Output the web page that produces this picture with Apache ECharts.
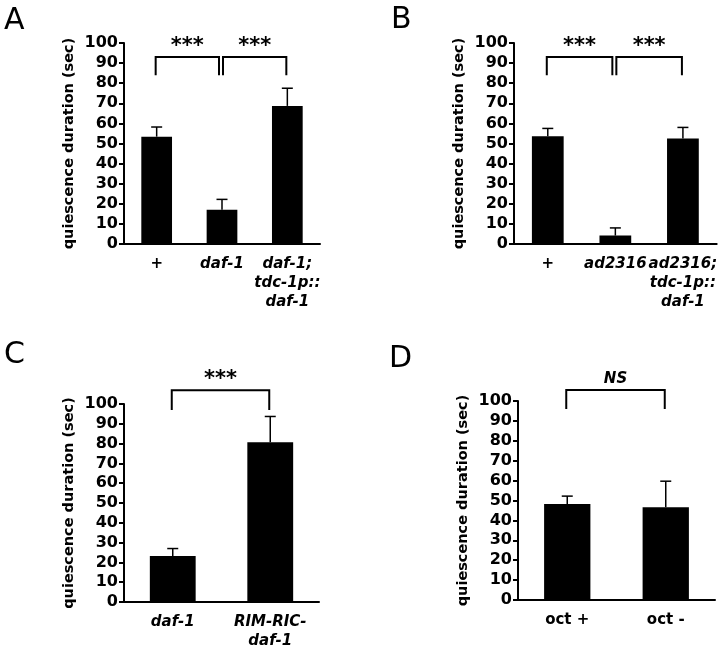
<!DOCTYPE html>
<html>
<head>
<meta charset="utf-8">
<script src="https://cdn.jsdelivr.net/npm/echarts@6/dist/echarts.min.js"></script>
<style>
  html, body { margin: 0; padding: 0; background: #fff; }
  #fig { width: 720px; height: 651px; }
</style>
</head>
<body>
<div id="fig"></div>
<script>
  // A
  const catsA = ['+', 'daf-1', 'daf-1;\ntdc-1p::\ndaf-1'];
  const meanA = [53.4, 17, 68.7];
  const errTopA = [58.2, 22.2, 77.5];
  const bracketsA = [[0, 1, 93, 84], [1, 2, 93, 84]];
  const sigA = ['***', '***'];
  // B
  const catsB = ['+', 'ad2316', 'ad2316;\ntdc-1p::\ndaf-1'];
  const meanB = [53.6, 4.2, 52.5];
  const errTopB = [57.5, 8, 58];
  const bracketsB = [[0, 1, 93, 84], [1, 2, 93, 84]];
  const sigB = ['***', '***'];
  // C
  const catsC = ['daf-1', 'RIM-RIC-\ndaf-1'];
  const meanC = [23.2, 80.7];
  const errTopC = [27, 93.7];
  const bracketsC = [[0, 1, 107, 97]];
  const sigC = ['***'];
  // D
  const catsD = ['oct +', 'oct -'];
  const meanD = [48.3, 46.6];
  const errTopD = [52.2, 59.7];
  const bracketsD = [[0, 1, 105.5, 96]];
  const sigD = ['NS'];

  const yTicks = [0, 10, 20, 30, 40, 50, 60, 70, 80, 90, 100];
  const yTitle = 'quiescence duration (sec)';
  const plainLabels = ['+', 'oct +', 'oct -'];

  const panels = [
    {letter: 'A', cats: catsA, mean: meanA, err: errTopA, br: bracketsA, sig: sigA,
      grid: {left: 124, right: 400, top: 43, bottom: 407}, lx: 4, ly: 6},
    {letter: 'B', cats: catsB, mean: meanB, err: errTopB, br: bracketsB, sig: sigB,
      grid: {left: 514, right: 2, top: 43, bottom: 407}, lx: 391, ly: 5},
    {letter: 'C', cats: catsC, mean: meanC, err: errTopC, br: bracketsC, sig: sigC,
      grid: {left: 124, right: 401, top: 404, bottom: 47}, lx: 4, ly: 340},
    {letter: 'D', cats: catsD, mean: meanD, err: errTopD, br: bracketsD, sig: sigD,
      grid: {left: 518, right: 5, top: 401, bottom: 51}, lx: 389, ly: 344}
  ];

  const FONT = 'DejaVu Sans';
  let grids = [], xAxes = [], yAxes = [], series = [], graphics = [];

  panels.forEach((p, k) => {
    grids.push(p.grid);
    xAxes.push({
      type: 'category', gridIndex: k, data: p.cats,
      axisLine: {lineStyle: {color: '#000', width: 2}},
      axisTick: {length: 4, lineStyle: {color: '#000', width: 2}},
      axisLabel: {
        interval: 0, margin: 11, color: '#000',
        fontFamily: FONT, fontWeight: 'bold', fontSize: 15, lineHeight: 19,
        formatter: v => plainLabels.includes(v) ? v
          : v.split('\n').map(s => '{i|' + s + '}').join('\n'),
        rich: {i: {fontStyle: 'italic', fontFamily: FONT, fontWeight: 'bold', fontSize: 15, lineHeight: 19, color: '#000'}}
      }
    });
    yAxes.push({
      type: 'value', gridIndex: k, min: yTicks[0], max: yTicks[yTicks.length - 1], interval: 10,
      name: yTitle, nameLocation: 'middle', nameRotate: 90, nameGap: 47,
      nameTextStyle: {fontFamily: FONT, fontWeight: 'bold', fontSize: 14.5, color: '#000'},
      splitLine: {show: false},
      axisLine: {show: true, lineStyle: {color: '#000', width: 2}},
      axisTick: {show: true, length: 5, lineStyle: {color: '#000', width: 2}},
      axisLabel: {margin: 6, color: '#000', fontFamily: FONT, fontWeight: 'bold', fontSize: 16}
    });
    series.push({
      type: 'bar', xAxisIndex: k, yAxisIndex: k, data: p.mean, barWidth: '47%',
      itemStyle: {color: '#000'}, silent: true, z: 2
    });
    // upper error bars
    series.push({
      type: 'custom', xAxisIndex: k, yAxisIndex: k, z: 3, clip: false, silent: true,
      data: p.mean.map((m, i) => [i, m, p.err[i]]),
      renderItem: (params, api) => {
        const b = api.coord([api.value(0), api.value(1)]);
        const t = api.coord([api.value(0), api.value(2)]);
        const st = {stroke: '#000', lineWidth: 1.5};
        return {type: 'group', children: [
          {type: 'line', shape: {x1: b[0], y1: b[1], x2: t[0], y2: t[1]}, style: st},
          {type: 'line', shape: {x1: t[0] - 5.5, y1: t[1], x2: t[0] + 5.5, y2: t[1]}, style: st}
        ]};
      }
    });
    // significance brackets
    const starts = p.br.map(d => d[0]);
    const ends = p.br.map(d => d[1]);
    series.push({
      type: 'custom', xAxisIndex: k, yAxisIndex: k, z: 4, clip: false, silent: true,
      data: p.br,
      renderItem: (params, api) => {
        const d = p.br[params.dataIndex];
        const a = api.coord([d[0], d[2]]);
        const c = api.coord([d[1], d[2]]);
        const leg = api.coord([d[0], d[3]]);
        const x0 = a[0] - 1 + (ends.includes(d[0]) ? 2 : 0);
        const x1 = c[0] - 1 - (starts.includes(d[1]) ? 2 : 0);
        const st = {stroke: '#000', lineWidth: 2, fill: null};
        const label = p.sig[params.dataIndex];
        return {type: 'group', children: [
          {type: 'polyline', shape: {points: [[x0, leg[1]], [x0, a[1]], [x1, a[1]], [x1, leg[1]]]}, style: st},
          {type: 'text', x: (x0 + x1) / 2, y: a[1] - 11, style: {
            text: label, fill: '#000', align: 'center', verticalAlign: 'middle',
            font: (label === 'NS' ? 'italic bold 15px ' : 'bold 21px ') + FONT
          }}
        ]};
      }
    });
    graphics.push({
      type: 'text', left: p.lx, top: p.ly,
      style: {text: p.letter, font: '30px "DejaVu Sans"', fill: '#000'}
    });
  });

  const chart = echarts.init(document.getElementById('fig'));
  chart.setOption({
    animation: false,
    backgroundColor: '#fff',
    grid: grids, xAxis: xAxes, yAxis: yAxes, series: series,
    graphic: graphics
  });
</script>
</body>
</html>
